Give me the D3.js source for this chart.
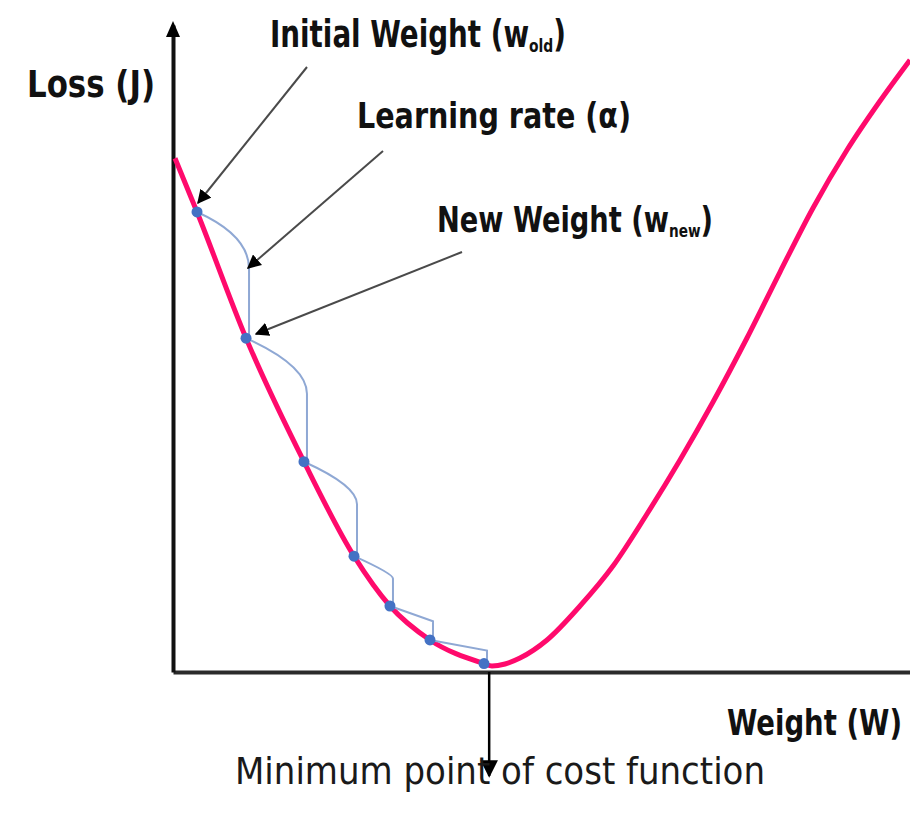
<!DOCTYPE html>
<html>
<head>
<meta charset="utf-8">
<script src="https://cdn.jsdelivr.net/npm/d3@7"></script>
<style>
	body { margin: 0; background: #fff; }
	.lbl { font-family: "Liberation Sans Narrow", "DejaVu Sans Condensed", sans-serif; font-weight: bold; fill: #111; }
	.note { font-family: "DejaVu Sans Condensed", "Liberation Sans Narrow", sans-serif; fill: #1a1a1a; }
</style>
</head>
<body>
<svg id="chart" width="910" height="824"></svg>
<script>
// loss curve (weight, loss in 0..100 units)
var curveWeights = [0.27, 3.26, 9.91, 17.77, 24.56, 29.44, 34.87, 42.2, 43.28, 45.05, 47.08, 50.75, 55.22, 59.7, 64.31, 68.79, 73.27, 77.88, 82.36, 86.84, 91.45, 95.93, 100];
var curveLoss = [79.4, 71.1, 51.6, 32.5, 17.9, 10.2, 4.95, 1.31, 0.93, 1.24, 2.16, 4.95, 10.2, 16.38, 24.42, 32.77, 41.73, 51.62, 61.82, 71.72, 80.68, 88.25, 94.59];

// gradient descent steps
var stepWeights = [3.26, 9.91, 17.77, 24.56, 29.44, 34.87, 42.2];
var stepLoss = [71.1, 51.6, 32.5, 17.9, 10.2, 4.95, 1.31];

var minWeight = 42.9;

var axisLabels = ["Loss (J)", "Weight (W)"];
var noteText = "Minimum point of cost function";

(function () {
	var $svg = d3.select("#chart"),
		x = d3.scaleLinear().domain([0, 100]).range([173, 910]),
		y = d3.scaleLinear().domain([0, 100]).range([672, 25]);

	var defs = $svg.append("defs");
	defs.append("marker")
		.attr("id", "head")
		.attr("viewBox", "0 0 10 10")
		.attr("refX", 9).attr("refY", 5)
		.attr("markerWidth", 7).attr("markerHeight", 7)
		.attr("markerUnits", "strokeWidth")
		.attr("orient", "auto")
		.append("path").attr("d", "M0,0 L10,5 L0,10 Z").attr("fill", "#000");

	// axes: plain lines, no ticks
	$svg.append("g")
		.attr("transform", "translate(0," + y(0) + ")")
		.call(d3.axisBottom(x).tickValues([]).tickSizeOuter(0))
		.select(".domain").attr("stroke", "#2b2b2b").attr("stroke-width", 4);
	$svg.append("g")
		.attr("transform", "translate(" + x(0) + ",0)")
		.call(d3.axisLeft(y).tickValues([]).tickSizeOuter(0))
		.select(".domain").attr("stroke", "#111").attr("stroke-width", 4);
	$svg.append("path")
		.attr("d", "M" + (x(0) - 7) + "," + (y(100) + 12) + " L" + x(0) + "," + (y(100) - 4) + " L" + (x(0) + 7) + "," + (y(100) + 12) + " Z")
		.attr("fill", "#000");

	// loss curve
	var pts = curveWeights.map(function (w, i) { return [w, curveLoss[i]]; });
	$svg.append("path")
		.datum(pts)
		.attr("fill", "none")
		.attr("stroke", "#ff0a6c")
		.attr("stroke-width", 5)
		.attr("d", d3.line()
			.x(function (d) { return x(d[0]); })
			.y(function (d) { return y(d[1]); })
			.curve(d3.curveMonotoneX));

	// step paths between the blue points
	var steps = stepWeights.map(function (w, i) { return {x: x(w), y: y(stepLoss[i])}; });
	for (var i = 0; i < steps.length - 1; i++) {
		var a = steps[i], b = steps[i + 1],
			kx = b.x + 3,
			ky = a.y + (b.y - a.y) * 0.45,
			cy = a.y + (kx - a.x) * 0.45,
			d = "M" + a.x + "," + a.y + " Q" + kx + "," + Math.min(cy, ky) + " " + kx + "," + ky +
				" L" + kx + "," + (b.y - 4) + " L" + b.x + "," + b.y;
		$svg.append("path")
			.attr("d", d)
			.attr("fill", "none")
			.attr("stroke", "#8fa8d4")
			.attr("stroke-width", 2);
	}
	$svg.selectAll(".stepDot")
		.data(steps)
		.enter().append("circle")
		.attr("class", "stepDot")
		.attr("cx", function (d) { return d.x; })
		.attr("cy", function (d) { return d.y; })
		.attr("r", 5.5)
		.attr("fill", "#4472c4");

	// callout arrows
	var callouts = [
		{x1: 307, y1: 67, x2: 198, y2: 203},
		{x1: 383, y1: 151, x2: 248, y2: 268},
		{x1: 462, y1: 252, x2: 256, y2: 334}
	];
	$svg.selectAll(".callout")
		.data(callouts)
		.enter().append("line")
		.attr("x1", function (d) { return d.x1; })
		.attr("y1", function (d) { return d.y1; })
		.attr("x2", function (d) { return d.x2; })
		.attr("y2", function (d) { return d.y2; })
		.attr("stroke", "#4a4a4a")
		.attr("stroke-width", 2)
		.attr("marker-end", "url(#head)");

	// minimum arrow
	$svg.append("line")
		.attr("x1", x(minWeight)).attr("y1", y(0))
		.attr("x2", x(minWeight)).attr("y2", 776)
		.attr("stroke", "#000").attr("stroke-width", 2.5)
		.attr("marker-end", "url(#head)");

	// labels
	function label(parts, tx, ty, size, len) {
		var t = $svg.append("text").attr("class", "lbl")
			.attr("x", tx).attr("y", ty)
			.attr("font-size", size)
			.attr("textLength", len).attr("lengthAdjust", "spacingAndGlyphs");
		parts.forEach(function (p) {
			var s = t.append("tspan").text(p.t);
			if (p.sub) s.attr("font-size", size * 0.5).attr("dy", 5);
			if (p.up) s.attr("dy", -5);
		});
	}
	label([{t: axisLabels[0]}], 27, 97, 38, 128);
	label([{t: "Initial Weight (w"}, {t: "old", sub: true}, {t: ")", up: true}], 270, 47, 37, 296);
	label([{t: "Learning rate (\u03b1)"}], 357, 128, 36, 274);
	label([{t: "New Weight (w"}, {t: "new", sub: true}, {t: ")", up: true}], 437, 232, 36, 276);
	label([{t: axisLabels[1]}], 727, 735, 36, 175);

	$svg.append("text").attr("class", "note")
		.attr("x", 235).attr("y", 784)
		.attr("font-size", 38)
		.attr("textLength", 530).attr("lengthAdjust", "spacingAndGlyphs")
		.text(noteText);
})();
</script>
</body>
</html>
